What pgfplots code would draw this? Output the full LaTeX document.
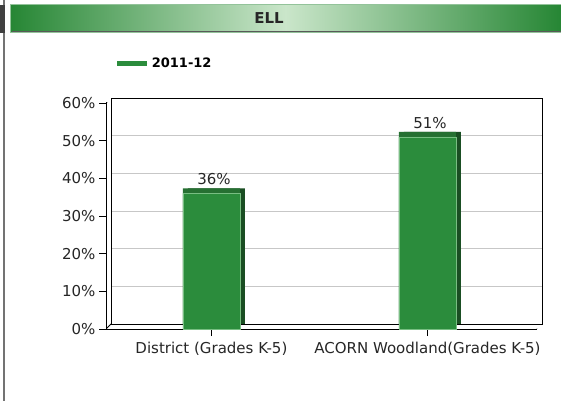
\documentclass[border=0pt]{standalone}
\usepackage{pgfplots}
\pgfplotsset{compat=1.18}
\usepackage{fontspec}
\setmainfont{DejaVu Sans}
\definecolor{barg}{RGB}{43,140,60}
\definecolor{barlight}{RGB}{120,190,130}
\definecolor{bardark}{RGB}{26,78,35}
\definecolor{bartop}{RGB}{38,112,50}
\definecolor{hdrdark}{RGB}{38,134,52}
\definecolor{hdrlight}{RGB}{202,230,202}
\begin{document}
\begin{tikzpicture}[x=1pt,y=1pt]
\useasboundingbox (0,0) rectangle (561,401);
\fill[white] (0,0) rectangle (561,401);
% left separator and neighbouring panel
\fill[black!55] (2.5,0) rectangle (5,401);
\fill[black!75] (0,368) rectangle (5,396);
% header bar
\shade[left color=hdrdark, right color=hdrdark, middle color=hdrlight] (10,368) rectangle (561,396);
\draw[hdrdark!50!white, line width=1pt] (10,368) rectangle (562,396);
\draw[black!65, line width=1pt] (12,369) -- (561,369);
\node[font=\bfseries\fontsize{15}{18}\selectfont, text=black!85] at (269,383) {ELL};

\pgfplotsset{chartbase/.style={scale only axis, width=431pt, height=226pt,
  xmin=-0.488, xmax=1.507, ymin=0, ymax=60, ybar, bar width=57pt}}

% back wall: grid, box and depth of bars
\begin{axis}[chartbase, at={(111pt,77pt)}, anchor=south west,
  axis line style={black, line width=0.8pt},
  xtick=\empty, ytick={10,20,30,40,50}, yticklabels={},
  major tick length=0pt, ymajorgrids,
  major grid style={black!22, line width=0.9pt}]
\addplot[fill=bardark, draw=none, bar shift=0pt] coordinates {(0,36) (1,51)};
\end{axis}

% top faces of bars
\begin{axis}[chartbase, at={(106pt,77pt)}, anchor=south west, hide axis]
\addplot[fill=bartop, draw=none, bar shift=0pt] coordinates {(0,36) (1,51)};
\end{axis}

% front: bars, ticks, labels
\begin{axis}[chartbase, at={(106pt,72pt)}, anchor=south west,
  axis x line*=bottom, axis y line*=left,
  axis line style={black, line width=0.8pt, -},
  xtick={0,1},
  xticklabels={District (Grades K-5), ACORN Woodland(Grades K-5)},
  ytick={0,10,...,60},
  yticklabel={\pgfmathprintnumber{\tick}\%},
  /pgf/number format/assume math mode=true,
  tick align=outside, major tick length=7pt,
  tick style={black, line width=0.8pt},
  ticklabel style={font=\fontsize{15}{18}\selectfont, text=black!85},
  xticklabel style={yshift=-3pt},
  legend style={draw=none, fill=none, inner sep=0pt,
    at={(axis description cs:0.02,1.173)}, anchor=west,
    font=\bfseries\fontsize{13}{15}\selectfont},
  legend image code/.code={\draw[barg, line width=5pt] (0pt,0pt) -- (30pt,0pt);},
  ]
\addplot[fill=barg, draw=barlight, line width=0.6pt, bar shift=0pt,
  nodes near coords={\pgfmathprintnumber{\pgfplotspointmeta}\%},
  nodes near coords style={font=\fontsize{15}{18}\selectfont, text=black!85, yshift=5pt, xshift=2.5pt}]
  coordinates {(0,36) (1,51)};
\addlegendentry{2011-12}
\draw[black, line width=0.8pt] (rel axis cs:0,0) -- ++(5pt,5pt);
\draw[black, line width=0.8pt] (rel axis cs:0,1) -- ++(5pt,5pt);
\draw[black, line width=0.8pt] (rel axis cs:1,0) -- ++(5pt,5pt);
\end{axis}
\end{tikzpicture}
\end{document}
